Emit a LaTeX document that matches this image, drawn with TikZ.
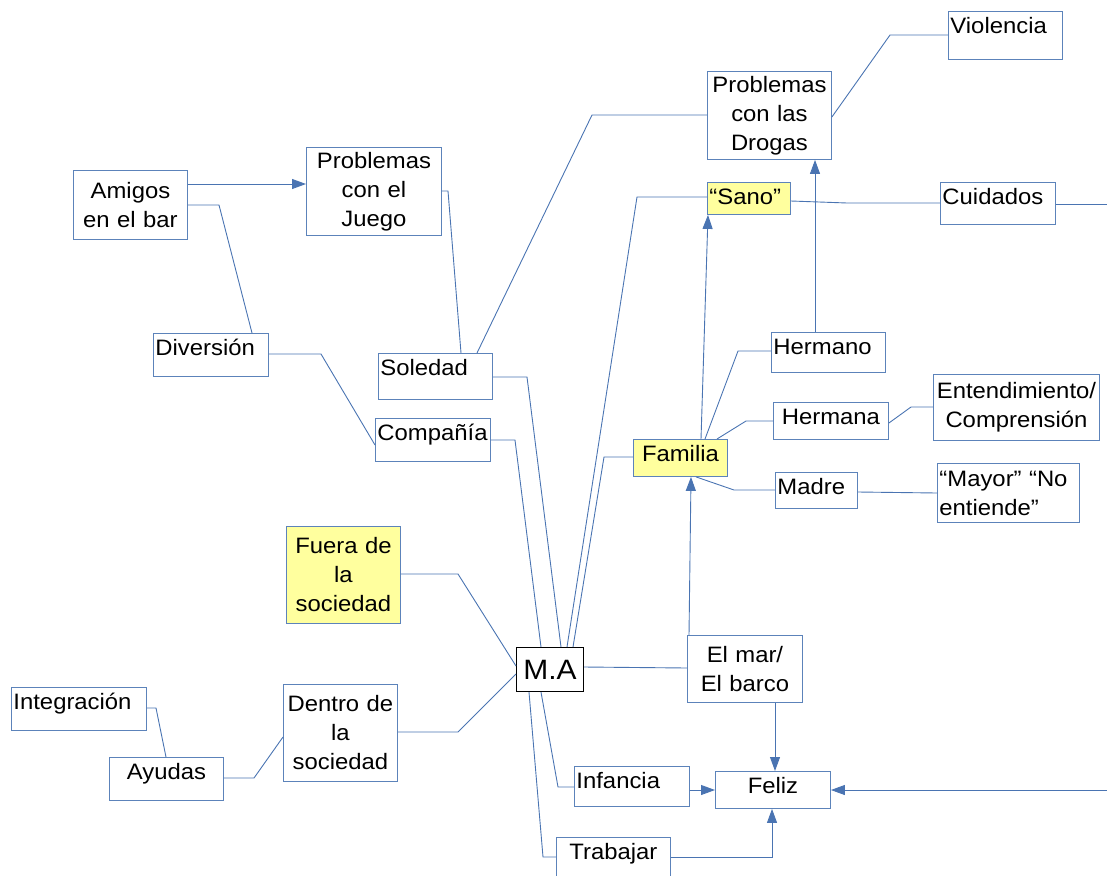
\documentclass[tikz,border=0pt]{standalone}
\usepackage{fontspec}
\setmainfont{Liberation Sans}[FakeStretch=1.07]
\usetikzlibrary{arrows.meta}
\definecolor{boxblue}{RGB}{92,131,186}
\definecolor{lineblue}{RGB}{74,116,178}
\definecolor{noteyellow}{RGB}{255,255,158}
\begin{document}
\begin{tikzpicture}[x=1pt, y=-1pt, line width=0.9pt,
  box/.style={draw=boxblue, anchor=north west, inner xsep=2pt, inner ysep=3pt, align=center, font=\fontsize{22.3}{29}\selectfont},
  upbox/.style={text height=19pt, text depth=#1},
  note/.style={fill=noteyellow},
  link/.style={draw=lineblue},
  arr/.style={link, -{Triangle[length=14pt,width=10pt]}}]
\useasboundingbox (0,0) rectangle (1107,875);
\clip (0,0) rectangle (1107,875);
\begin{scope}[every node/.style={box}]
\node[upbox=23pt, align=left, text width=110pt] (viol) at (948,11) {Violencia};
\node[text width=120pt, minimum height=88pt] (drog) at (707,71) {Problemas\\con las\\Drogas};
\node[note, upbox=7pt, align=left, text width=79pt] (sano) at (707,182) {“Sano”};
\node[upbox=17pt, align=left, text width=111pt] (cuid) at (940,182) {Cuidados};
\node[text width=110pt, minimum height=69pt] (amig) at (73,170) {Amigos\\en el bar};
\node[text width=131pt, minimum height=88pt] (jueg) at (306,147) {Problemas\\con el\\Juego};
\node[upbox=18pt, align=left, text width=111pt] (dive) at (153,333) {Diversión};
\node[upbox=21pt, align=left, text width=110pt] (sole) at (378,353) {Soledad};
\node[upbox=18pt, align=left, text width=111pt] (comp) at (375,418) {Compañía};
\node[upbox=15pt, align=left, text width=110pt] (herm) at (771,332) {Hermano};
\node[upbox=12pt, text width=111pt] (hna) at (773,402) {Hermana};
\node[text width=162pt, minimum height=66pt] (ente) at (933,374) {Entendimiento/\\Comprensión};
\node[note, upbox=12pt, text width=90pt] (fami) at (633,439) {Familia};
\node[upbox=11pt, align=left, text width=78pt] (madr) at (775,472) {Madre};
\node[align=left, text width=138pt, minimum height=59pt] (mayo) at (937,463) {“Mayor” “No\\entiende”};
\node[note, text width=110pt, minimum height=97pt] (fuer) at (286,526) {Fuera de\\la\\sociedad};
\node[draw=black, line width=1.1pt, text width=63pt, minimum height=44pt, font=\fontsize{28}{30}\selectfont] (ma) at (516,647) {M.A};
\node[text width=111pt, minimum height=67pt] (elma) at (687,635) {El mar/\\El barco};
\node[upbox=18pt, align=left, text width=131pt] (inte) at (11,687) {Integración};
\node[upbox=18pt, text width=110pt] (ayud) at (109,757) {Ayudas};
\node[text width=110pt, minimum height=97pt] (dent) at (283,684) {Dentro de\\la\\sociedad};
\node[upbox=15pt, align=left, text width=111pt] (infa) at (574,766) {Infancia};
\node[upbox=12pt, text width=111pt] (feli) at (715,771) {Feliz};
\node[upbox=20pt, text width=110pt] (trab) at (556,837) {Trabajar};
\end{scope}
% left branch
\draw[arr] (amig.east |- 0,184) -- (jueg.west |- 0,184);
\draw[link] (amig.east |- 0,205) -- (219,205) -- (dive.north -| 252,0);
\draw[link] (dive.east |- 0,354) -- (321,354) -- (comp.west |- 0,445);
\draw[link] (jueg.east |- 0,191) -- (448,191) -- (sole.north -| 461,0);
\draw[link] (sole.north -| 477,0) -- (592,115) -- (drog.west |- 0,115);
\draw[link] (drog.east |- 0,117) -- (890,35) -- (viol.west |- 0,35);
% into M.A from above
\draw[link] (ma.north -| 541,0) -- (515,440) -- (comp.east |- 0,440);
\draw[link] (ma.north -| 561,0) -- (527,377) -- (sole.east |- 0,377);
\draw[link] (ma.north -| 567,0) -- (637,197) -- (sano.west |- 0,197);
\draw[link] (ma.north -| 573,0) -- (604,457) -- (fami.west |- 0,457);
% familia
\draw[arr] (fami.north -| 701,0) -- (sano.south -| 708,0);
\draw[link] (fami.north -| 705,0) -- (738,351) -- (herm.west |- 0,351);
\draw[link] (fami.north -| 717,0) -- (746,421) -- (hna.west |- 0,421);
\draw[link] (fami.south -| 696,0) -- (734,490) -- (madr.west |- 0,490);
\draw[arr] (herm.north -| 815,0) -- (drog.south -| 815,0);
\draw[link] (hna.east |- 0,423) -- (911,407) -- (ente.west |- 0,407);
\draw[link] (madr.east |- 0,492) -- (mayo.west |- 0,493);
\draw[link] (sano.east |- 0,201) -- (847,203) -- (cuid.west |- 0,203);
\draw[arr] (cuid.east |- 0,204) -- (1115,204) -- (1115,790) -- (feli.east |- 0,790);
% M.A right and below
\draw[link] (ma.east |- 0,667) -- (elma.west |- 0,668);
\draw[arr] (elma.north -| 689,0) -- (fami.south -| 691,0);
\draw[arr] (elma.south -| 775,0) -- (feli.north -| 775,0);
\draw[link] (ma.south -| 541,0) -- (558,787) -- (infa.west |- 0,787);
\draw[link] (ma.south -| 529,0) -- (543,857) -- (trab.west |- 0,857);
\draw[arr] (infa.east |- 0,790) -- (feli.west |- 0,790);
\draw[arr] (trab.east |- 0,857) -- (772,857) -- (feli.south -| 772,0);
% M.A left
\draw[link] (fuer.east |- 0,574) -- (458,574) -- (ma.west |- 0,666);
\draw[link] (ma.west |- 0,674) -- (458,732) -- (dent.east |- 0,732);
\draw[link] (dent.west |- 0,737) -- (254,778) -- (ayud.east |- 0,778);
\draw[link] (ayud.north -| 166,0) -- (156,708) -- (inte.east |- 0,708);
\end{tikzpicture}
\end{document}
